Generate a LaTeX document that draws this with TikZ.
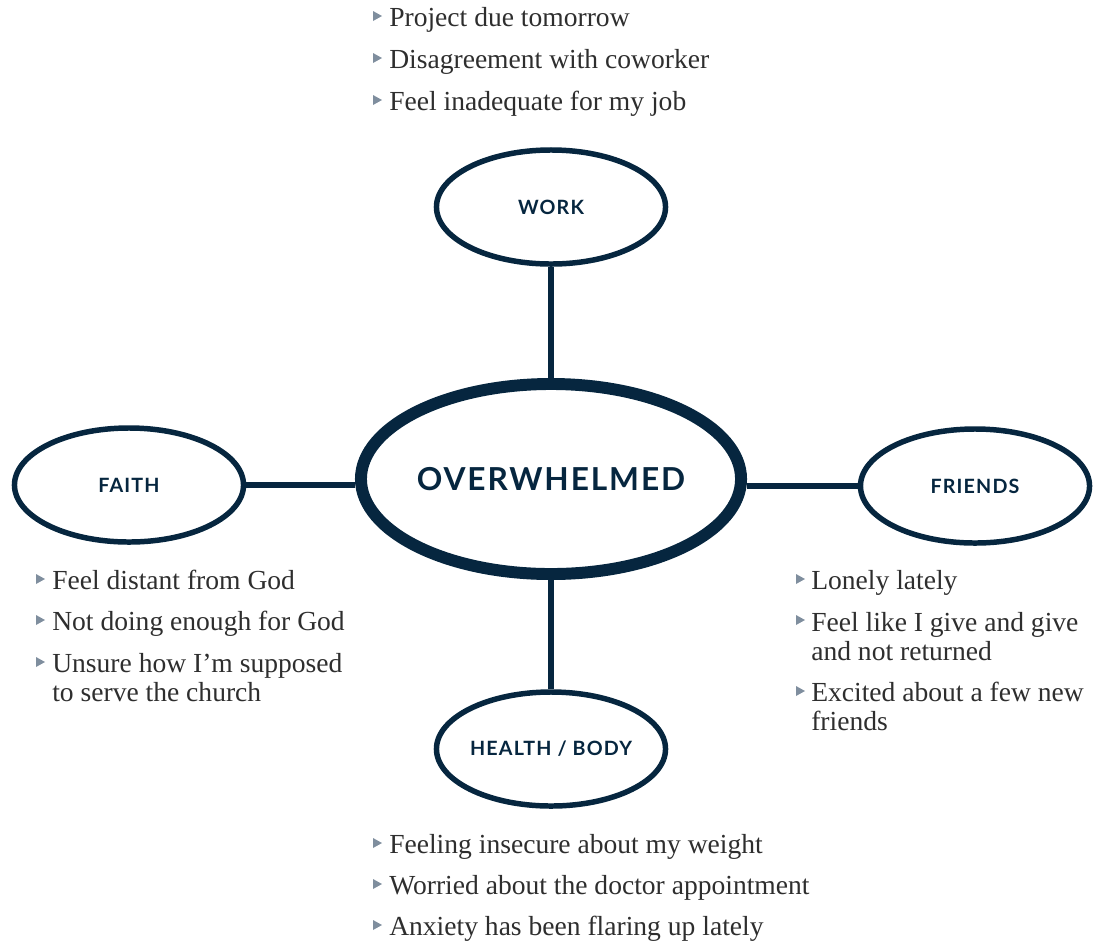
\documentclass[tikz,border=0pt]{standalone}
\usepackage{fontspec}
\setmainfont{Liberation Serif}
\newfontfamily\labelfont[LetterSpace=6]{Lato}
\usetikzlibrary{shapes.geometric}
\definecolor{navy}{HTML}{06263F}
\definecolor{inkgray}{HTML}{2E2E2E}
\definecolor{bulletgray}{HTML}{7F8E9E}
\begin{document}
\begin{tikzpicture}[x=0.025cm,y=-0.025cm,
    topic/.style={ellipse,draw=navy,line width=3.9pt,fill=white,minimum width=5.725cm,minimum height=2.85cm,inner sep=0pt,text=navy,font=\labelfont\bfseries\fontsize{14}{16}\selectfont},
    core/.style={ellipse,draw=navy,line width=8.5pt,fill=white,minimum width=9.5cm,minimum height=4.75cm,inner sep=0pt,text=navy,font=\labelfont\bfseries\fontsize{22.5}{26}\selectfont},
    link/.style={draw=navy,line width=3.6pt},
    note/.style={anchor=base west,inner sep=0pt,align=left,text=inkgray,font=\fontsize{19.6}{20.63}\selectfont}]
\useasboundingbox (0,0) rectangle (1096,942);
    %   mind map
\node [core] (overwhelmed) at (551,479) {OVERWHELMED};
\node [topic] (work) at (551,207) {WORK};
\node [topic] (faith) at (129,485) {FAITH};
\node [topic] (friends) at (975,486) {FRIENDS};
\node [topic] (health) at (551,749) {HEALTH / BODY};
\draw [link] (work) -- (overwhelmed);
\draw [link] (faith) -- (faith -| overwhelmed.west);
\draw [link] (friends) -- (friends -| overwhelmed.east);
\draw [link] (health) -- (overwhelmed);
    %   bullet lists
\foreach \bx/\by in {373/26,373/68,373/110,36/589,36/630,36/672,796/589,796/630,796/701,373/853,373/894,373/935}
    \fill[bulletgray] (\bx,\by-15) -- (\bx,\by-5) -- (\bx+9,\by-10) -- cycle;
\node [note] (w1) at (389,26) {Project due tomorrow};
\node [note] (w2) at (389,68) {Disagreement with coworker};
\node [note] (w3) at (389,110) {Feel inadequate for my job};
\node [note] (f1) at (52,589) {Feel distant from God};
\node [note] (f2) at (52,630) {Not doing enough for God};
\node [note] (f3) at (52,701) {Unsure how I’m supposed\\to serve the church};
\node [note] (r1) at (811,589) {Lonely lately};
\node [note] (r2) at (811,660) {Feel like I give and give\\and not returned};
\node [note] (r3) at (811,730) {Excited about a few new\\friends};
\node [note] (h1) at (389,853) {Feeling insecure about my weight};
\node [note] (h2) at (389,894) {Worried about the doctor appointment};
\node [note] (h3) at (389,935) {Anxiety has been flaring up lately};
    \end{tikzpicture}
\end{document}
